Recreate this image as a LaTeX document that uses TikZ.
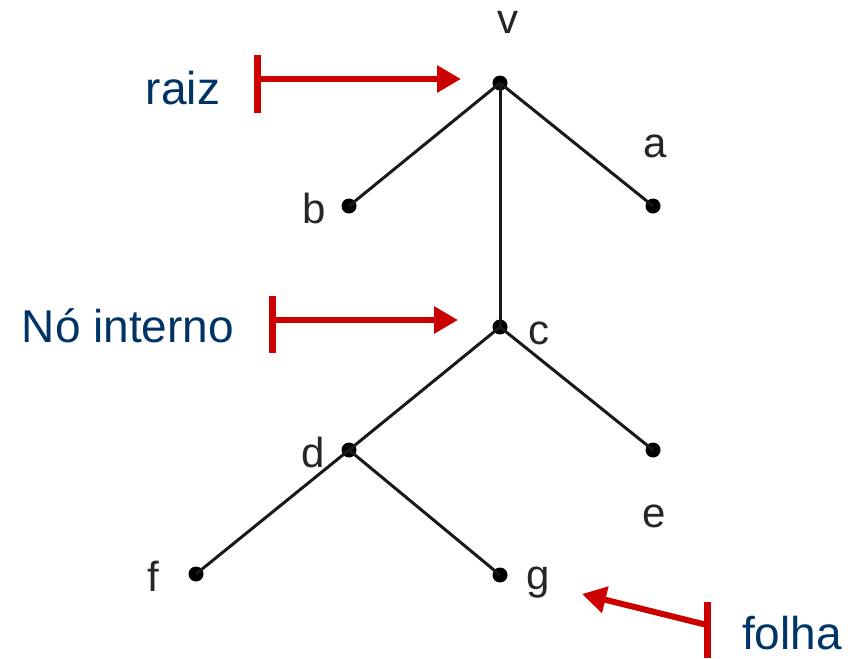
\documentclass[tikz,border=0pt]{standalone}
\usepackage{fontspec}
\setmainfont{Liberation Sans}
\usetikzlibrary{arrows.meta}
\definecolor{navy}{RGB}{0,51,102}
\definecolor{redarrow}{RGB}{204,0,0}
\begin{document}
\begin{tikzpicture}[x=1pt,y=-1pt,
  vertex/.style={circle,fill=black,inner sep=0pt,minimum size=15pt},
  lab/.style={font=\fontsize{42}{46}\selectfont,text=black!85,inner sep=0pt},
  callout/.style={font=\fontsize{46}{50}\selectfont,text=navy,inner sep=0pt},
  edge/.style={line width=3pt,black!90},
  pointer/.style={line width=6pt,redarrow,-{Triangle[length=24pt,width=26pt]}},
  barmark/.style={line width=7pt,redarrow}]
\useasboundingbox (0,0) rectangle (860,659);
% vertices
\node[vertex] (v) at (500,83) {};
\node[vertex] (b) at (349,206) {};
\node[vertex] (a) at (653,206) {};
\node[vertex] (c) at (500,327) {};
\node[vertex] (d) at (349,450) {};
\node[vertex] (e) at (653,450) {};
\node[vertex] (f) at (196,574) {};
\node[vertex] (g) at (500,575) {};
% edges
\draw[edge] (v.center) -- (b.center);
\draw[edge] (v.center) -- (a.center);
\draw[edge] (v.center) -- (c.center);
\draw[edge] (c.center) -- (d.center);
\draw[edge] (c.center) -- (e.center);
\draw[edge] (d.center) -- (f.center);
\draw[edge] (d.center) -- (g.center);
% labels
\node[lab] (lv) at (508,22) {v};
\node[lab] (lb) at (314,208) {b};
\node[lab] (la) at (655,146) {a};
\node[lab] (lc) at (539,333) {c};
\node[lab] (ld) at (313,452) {d};
\node[lab] (le) at (654,516) {e};
\node[lab] (lf) at (153,576) {f};
\node[lab] (lg) at (538,583) {g};
% callouts
\node[callout] (raiz) at (183,88) {raiz};
\node[callout] (interno) at (128,326) {Nó interno};
\node[callout] (folha) at (792,633) {folha};
% red pointers
\coordinate (r0) at (257,79);
\coordinate (r1) at (461,79);
\draw[barmark] (257,55) -- (257,113);
\draw[pointer] (r0) -- (r1);
\coordinate (n0) at (272,320);
\coordinate (n1) at (458,320);
\draw[barmark] (272,296) -- (272,353);
\draw[pointer] (n0) -- (n1);
\coordinate (f0) at (707,625);
\coordinate (f1) at (582,594);
\draw[barmark] (707,602) -- (707,658);
\draw[pointer] (f0) -- (f1);
\end{tikzpicture}
\end{document}
